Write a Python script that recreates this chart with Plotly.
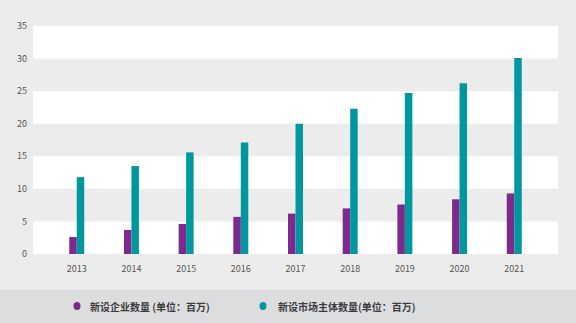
import plotly.graph_objects as go

years = ["2013", "2014", "2015", "2016", "2017", "2018", "2019", "2020", "2021"]
new_enterprises = [2.6, 3.7, 4.6, 5.7, 6.2, 7.0, 7.6, 8.4, 9.3]
new_market_entities = [11.8, 13.5, 15.6, 17.1, 20.0, 22.3, 24.7, 26.2, 30.1]
name_a = "新设企业数量 (单位：百万)"
name_b = "新设市场主体数量(单位：百万)"
purple = "#7e2a8c"
teal = "#00979e"

W, H = 576, 323
L, R, T, B = 33, 18, 26, 69
pw, ph = W - L - R, H - T - B


def px_x(p):
    return (p - L) / pw


def px_y(p):
    return (H - B - p) / ph


fig = go.Figure()
fig.add_trace(go.Bar(x=years, y=new_enterprises, marker_color=purple, marker_line_width=0,
                     showlegend=False, name=name_a))
fig.add_trace(go.Bar(x=years, y=new_market_entities, marker_color=teal, marker_line_width=0,
                     showlegend=False, name=name_b))

shapes = []
for lo in [0, 10, 20, 30]:
    shapes.append(dict(type="rect", xref="paper", yref="y", x0=0, x1=1, y0=lo, y1=lo + 5,
                       fillcolor="white", line_width=0, layer="below"))
# legend band
shapes.append(dict(type="rect", xref="paper", yref="paper", x0=px_x(-5), x1=px_x(W + 5),
                   y0=px_y(H + 5), y1=px_y(290), fillcolor="#dcdddf", line_width=0, layer="below"))

annotations = []
legend_items = [(name_a, purple, 77, 88), (name_b, teal, 263, 276)]
for name, color, mx, tx in legend_items:
    shapes.append(dict(type="circle", xref="paper", yref="paper", xsizemode="pixel",
                       ysizemode="pixel", xanchor=px_x(mx), yanchor=px_y(306),
                       x0=-3.5, x1=3.5, y0=-4, y1=4, fillcolor=color, line_width=0))
    annotations.append(dict(text="<b>" + name + "</b>", xref="paper", yref="paper",
                            x=px_x(tx), y=px_y(306), xanchor="left", yanchor="middle",
                            showarrow=False, font=dict(size=10, color="#3c3c3c")))

fig.update_layout(
    width=W, height=H,
    margin=dict(l=L, r=R, t=T, b=B),
    paper_bgcolor="#ececec", plot_bgcolor="#ececec",
    barmode="group", bargap=0.726, bargroupgap=0,
    showlegend=False,
    font=dict(family="Noto Sans CJK SC, sans-serif", size=9, color="#555555"),
    xaxis=dict(type="category", range=[-0.8, 8.8], showgrid=False, zeroline=False,
               showline=False, ticks="", ticklabelstandoff=8,
               tickfont=dict(size=9, color="#555555")),
    yaxis=dict(range=[0, 35], dtick=5, showgrid=False, zeroline=False, showline=False,
               ticks="", ticklabelstandoff=5, tickfont=dict(size=9, color="#555555")),
    shapes=shapes,
    annotations=annotations,
)

fig.write_html("out.html")
